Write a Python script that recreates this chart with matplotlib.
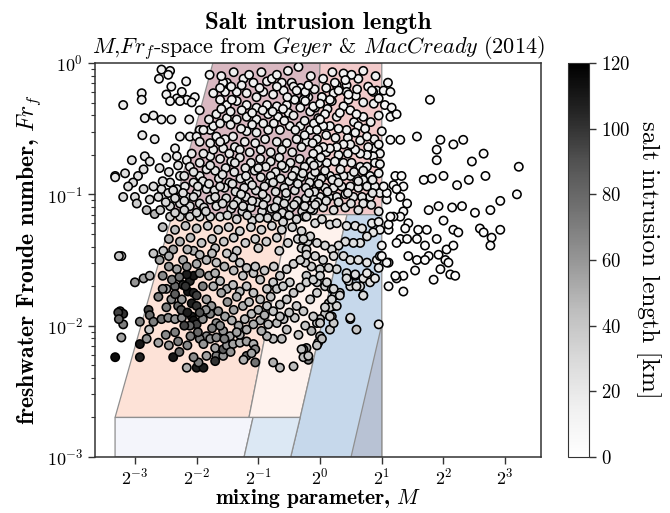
import numpy as np
import matplotlib
matplotlib.use("Agg")
import matplotlib.pyplot as plt
from matplotlib.ticker import NullLocator, FixedLocator

plt.rcParams['font.family'] = 'serif'
plt.rcParams['font.serif'] = ['cmr10', 'DejaVu Serif']
plt.rcParams['mathtext.fontset'] = 'cm'
plt.rcParams['axes.formatter.use_mathtext'] = True

# ---------------- regime polygons (M, Fr_f) ----------------
mauve_M = [0.19, 0.30, 1.0, 0.945];   mauve_Fr = [0.07, 1.0, 1.0, 0.07]
pink_M = [0.945, 1.0, 2.0, 2.0];      pink_Fr = [0.07, 1.0, 1.0, 0.07]
salmon_M = [0.10, 0.19, 0.706, 0.45]; salmon_Fr = [0.002, 0.07, 0.07, 0.002]
cream_M = [0.45, 0.706, 1.354, 0.80]; cream_Fr = [0.002, 0.07, 0.07, 0.002]
blue_M = [0.80, 1.354, 2.0, 2.0, 0.719]; blue_Fr = [0.002, 0.07, 0.07, 0.001, 0.001]
dark_M = [1.416, 2.0, 2.0];           dark_Fr = [0.001, 0.0102, 0.001]
lav_M = [0.10, 0.10, 0.471, 0.426];   lav_Fr = [0.001, 0.002, 0.002, 0.001]
lblue_M = [0.426, 0.471, 0.80, 0.719]; lblue_Fr = [0.001, 0.002, 0.002, 0.001]

# ---------------- estuary points: (log2 M, log10 Fr_f, salt intrusion length km) ----------------
pts_left_top = [
    (-2.57,-0.05,14),(-2.43,-0.06,14),(-2.61,-0.12,14),(-2.46,-0.09,14),(-2.17,-0.14,14),(-1.79,-0.09,12),
    (-3.19,-0.32,16),(-2.89,-0.23,14),(-2.89,-0.28,14),(-2.49,-0.24,14),(-2.32,-0.27,14),(-2.16,-0.28,14),
    (-2.03,-0.26,14),(-2.43,-0.29,14),(-2.27,-0.29,14),(-2.41,-0.18,14),(-2.24,-0.22,14),(-2.08,-0.30,14),
    (-2.84,-0.42,16),(-2.70,-0.40,16),(-2.57,-0.43,16),(-2.41,-0.43,16),(-2.12,-0.43,15),(-1.95,-0.36,15),
    (-2.88,-0.55,20),(-2.68,-0.58,20),(-2.35,-0.65,18),(-2.27,-0.56,18),(-2.11,-0.56,18),(-1.95,-0.51,16),
    (-1.78,-0.51,16),(-2.00,-0.56,16),(-1.68,-0.56,16),(-3.05,-0.74,24),(-2.84,-0.71,22),(-2.76,-0.75,22),
    (-2.86,-0.81,24),(-2.95,-0.86,26),(-3.03,-0.91,28),(-3.11,-0.94,26),(-3.19,-1.02,30),(-3.32,-0.86,30),
    (-3.16,-0.84,26),(-2.49,-0.72,22),(-2.32,-0.71,20),(-2.16,-0.74,20),(-2.11,-0.79,20),(-2.27,-0.86,22),
    (-2.43,-0.91,24),(-2.57,-0.96,26),(-2.70,-0.94,26),(-2.86,-0.96,28),(-3.00,-1.02,30),(-2.97,-1.07,36),
    (-2.76,-1.04,30),(-2.62,-1.02,28),(-2.46,-0.99,26),(-2.32,-0.96,24),(-2.19,-0.94,22),(-2.05,-0.91,22),
    (-1.95,-0.86,20),(-1.84,-0.81,20),(-1.95,-0.76,20),(-1.78,-0.71,20),(-2.16,-1.02,24),(-2.00,-0.99,22),
    (-1.84,-0.96,22),(-2.81,-1.12,42),(-2.68,-1.15,48),(-2.59,-1.12,36),(-2.43,-1.09,32),(-2.27,-1.07,30),
    (-2.11,-1.09,28),(-1.95,-1.07,26),(-1.78,-1.04,25),(-1.68,-1.09,25),(-1.62,-1.17,28),(-1.78,-1.17,30),
    (-1.95,-1.17,30),(-2.11,-1.17,32),(-2.27,-1.17,34),(-2.43,-1.17,36),(-3.32,-0.87,22),
]
pts_mauve = [
    (-1.24,-0.12,14),(-1.51,-0.15,14),(-1.54,-0.22,14),(-1.35,-0.22,14),(-1.19,-0.23,14),(-1.08,-0.15,14),
    (-0.86,-0.14,14),(-0.78,-0.12,14),(-0.62,-0.15,14),(-0.92,-0.22,14),(-1.03,-0.26,14),(-0.76,-0.24,14),
    (-0.59,-0.21,14),(-0.46,-0.15,14),(-0.32,-0.19,14),(-0.19,-0.26,14),(-0.41,-0.28,14),(-0.54,-0.32,15),
    (-0.70,-0.33,15),(-0.86,-0.32,15),(-1.03,-0.34,15),(-1.19,-0.32,15),(-1.35,-0.29,15),(-1.51,-0.32,15),
    (-1.68,-0.39,16),(-1.51,-0.42,16),(-1.35,-0.43,16),(-1.19,-0.41,16),(-1.03,-0.43,16),(-0.84,-0.39,16),
    (-0.68,-0.41,16),(-0.51,-0.38,16),(-0.32,-0.34,16),(-0.16,-0.37,16),(-0.03,-0.42,16),(-1.73,-0.48,17),
    (-1.89,-0.51,17),(-1.54,-0.58,18),(-1.41,-0.56,18),(-1.19,-0.52,17),(-1.03,-0.53,17),(-0.84,-0.51,17),
    (-0.65,-0.51,17),(-0.49,-0.48,17),(-0.32,-0.48,17),(-0.16,-0.51,17),(-0.05,-0.58,18),(-0.22,-0.60,18),
    (-0.38,-0.58,18),(-0.54,-0.61,18),(-0.70,-0.60,18),(-0.89,-0.58,18),(-1.05,-0.61,18),(-1.22,-0.60,18),
    (-1.38,-0.64,19),(-1.57,-0.65,19),(-1.73,-0.66,19),(-1.89,-0.69,19),(-2.08,-0.69,19),(-1.73,-0.23,14),
    (-1.57,-0.15,14),(-1.62,-0.28,14),(-1.43,-0.28,14),(-0.35,-0.03,12),(-0.43,-0.18,14),(-0.38,-0.21,14),
    (-0.24,-0.24,14),(-0.27,-0.28,14),
]
pts_upper_extra = [
    (-1.60,-0.10,15),(-1.40,-0.07,15),(-1.15,-0.09,15),(-0.95,-0.07,15),(-0.70,-0.09,15),(-0.52,-0.06,15),
    (-0.15,-0.10,15),(0.05,-0.12,14),(0.20,-0.07,14),(0.62,-0.12,14),(0.70,-0.06,14),(0.90,-0.10,14),
    (1.10,-0.15,10),(-1.62,-0.19,16),(-1.44,-0.18,16),(-1.27,-0.17,16),(-0.98,-0.19,16),(-0.70,-0.18,16),
    (-0.53,-0.26,16),(-0.09,-0.20,16),(0.10,-0.19,15),(0.58,-0.25,15),(0.70,-0.30,15),(0.87,-0.31,15),
    (0.60,-0.20,15),(-1.60,-0.35,17),(-1.45,-0.37,17),(-1.27,-0.36,17),(-1.10,-0.38,17),(-0.93,-0.36,17),
    (-0.77,-0.37,17),(-0.60,-0.35,17),(-0.43,-0.40,17),(-0.25,-0.44,17),(-0.08,-0.34,17),(0.12,-0.35,16),
    (0.27,-0.41,16),(0.55,-0.45,16),(0.82,-0.45,16),(0.95,-0.40,16),(-1.80,-0.43,18),(-1.62,-0.46,18),
    (-1.45,-0.47,18),(-1.28,-0.50,18),(-1.10,-0.47,18),(-0.92,-0.46,18),(-0.75,-0.46,18),(-0.58,-0.44,18),
    (-0.40,-0.51,18),(-0.25,-0.55,18),(-0.10,-0.46,18),(0.10,-0.55,17),(0.25,-0.57,17),(0.45,-0.57,17),
    (0.65,-0.59,17),(0.88,-0.58,17),(-1.95,-0.60,20),(-1.78,-0.61,20),(-1.62,-0.60,20),(-1.47,-0.69,20),
    (-1.30,-0.66,20),(-1.14,-0.68,20),(-0.96,-0.66,20),(-0.80,-0.68,20),(-0.62,-0.66,20),(-0.45,-0.68,20),
    (-0.30,-0.64,20),(-0.12,-0.61,20),(0.10,-0.68,19),(0.30,-0.70,19),(0.45,-0.69,19),(0.88,-0.65,19),
]
pts_band = [
    (-1.62,-0.73,21),(-1.44,-0.75,21),(-1.30,-0.72,21),(-1.12,-0.76,21),(-0.97,-0.73,21),(-0.80,-0.75,21),
    (-0.66,-0.72,21),(-0.48,-0.76,21),(-0.33,-0.73,21),(-0.15,-0.75,21),(0.01,-0.72,20),
    (-1.70,-0.82,23),(-1.53,-0.80,23),(-1.39,-0.83,23),(-1.21,-0.80,23),(-1.06,-0.82,23),(-0.88,-0.79,22),
    (-0.72,-0.83,22),(-0.57,-0.80,22),(-0.40,-0.82,22),(-0.25,-0.79,22),(-0.08,-0.83,22),
    (-1.64,-0.88,25),(-1.47,-0.91,25),(-1.29,-0.88,25),(-1.15,-0.90,24),(-0.96,-0.87,24),(-0.82,-0.91,24),
    (-0.64,-0.88,24),(-0.50,-0.90,24),(-0.31,-0.87,24),(-0.17,-0.91,24),(0.02,-0.88,24),
    (-1.71,-0.97,27),(-1.55,-0.95,27),(-1.37,-0.98,27),(-1.23,-0.95,26),(-1.04,-0.97,26),(-0.90,-0.94,26),
    (-0.72,-0.98,26),(-0.58,-0.95,26),(-0.41,-0.97,26),(-0.23,-0.95,26),(-0.09,-0.98,26),
    (-1.52,-1.03,29),(-1.34,-1.05,29),(-1.20,-1.02,28),(-1.02,-1.06,28),(-0.87,-1.03,28),(-0.69,-1.05,28),
    (-0.55,-1.02,28),(-0.37,-1.05,28),(-0.23,-1.03,28),(-0.04,-1.06,28),
    (-1.44,-1.11,31),(-1.26,-1.13,31),(-1.12,-1.10,30),(-0.94,-1.13,30),(-0.79,-1.11,30),(-0.61,-1.14,30),
    (-0.47,-1.10,30),(-0.29,-1.13,30),(-0.15,-1.11,30),
    (-1.35,-1.19,33),(-1.10,-1.20,32),(-0.85,-1.18,32),(-0.60,-1.21,32),(-0.38,-1.19,32),
    (-2.55,-1.25,45),(-2.35,-1.27,44),(-2.18,-1.24,42),(-2.00,-1.26,40),(-1.82,-1.24,38),(-1.65,-1.27,36),
    (-1.48,-1.25,35),(-1.30,-1.28,35),(-1.12,-1.25,34),(-0.95,-1.27,34),(-0.78,-1.24,33),(-0.62,-1.27,33),
    (-0.45,-1.25,32),(-0.30,-1.28,32),
    (-2.45,-1.34,50),(-2.27,-1.36,48),(-2.10,-1.33,45),(-1.92,-1.37,42),(-1.75,-1.34,40),(-1.56,-1.36,38),
    (-1.40,-1.33,36),(-1.21,-1.37,36),(-1.05,-1.34,35),(-0.87,-1.36,35),(-0.70,-1.33,34),(-0.52,-1.37,34),
    (-0.36,-1.34,33),(-0.20,-1.36,33),
    (-2.38,-1.42,55),(-2.05,-1.43,50),(-1.70,-1.41,42),(-1.35,-1.43,38),(-1.00,-1.41,36),(-0.66,-1.43,34),
    (-0.30,-1.41,33),
]
pts_band_extra = [
    (-2.60,-0.80,24),(-2.45,-0.83,24),(-2.30,-0.78,24),(-2.20,-0.86,24),(-2.05,-0.83,24),(-1.90,-0.90,24),
    (-1.78,-0.78,24),(-1.58,-0.85,24),(-1.38,-0.76,23),(-1.20,-0.86,24),(-1.00,-0.80,23),(-0.80,-0.86,24),
    (-0.62,-0.78,23),(-0.45,-0.86,24),(-0.28,-0.84,24),(-0.10,-0.78,23),(0.08,-0.82,22),(0.20,-0.89,22),
    (0.33,-0.81,22),(0.55,-0.83,22),(0.70,-0.82,22),(0.85,-0.89,22),
    (-2.55,-0.90,27),(-2.38,-0.97,27),(-2.22,-0.99,27),(-1.98,-0.94,26),(-1.80,-0.92,26),(-1.62,-0.94,26),
    (-1.42,-0.92,26),(-1.28,-1.00,26),(-1.10,-0.93,26),(-0.93,-1.00,26),(-0.76,-0.91,26),(-0.55,-0.99,26),
    (-0.36,-0.92,26),(-0.18,-0.99,26),(-0.02,-0.92,25),(0.12,-0.98,25),(0.30,-0.91,25),(0.45,-0.99,25),
    (0.62,-0.90,25),(0.85,-0.99,25),
    (-2.50,-1.06,30),(-2.35,-1.03,30),(-2.20,-1.05,30),(-2.05,-1.02,29),(-1.88,-1.10,29),(-1.70,-1.02,29),
    (-1.58,-1.07,29),(-1.40,-1.08,29),(-1.25,-1.09,29),(-1.10,-1.05,28),(-0.92,-1.08,28),(-0.73,-1.10,28),
    (-0.58,-1.07,28),(-0.42,-1.08,28),(-0.25,-1.09,28),(-0.08,-1.08,28),(0.10,-1.05,27),(0.30,-1.06,27),
    (0.50,-1.07,27),(0.62,-1.12,27),(0.83,-1.08,27),
    (-2.35,-1.14,34),(-2.20,-1.12,34),(-2.00,-1.14,33),(-1.85,-1.13,33),(-1.50,-1.16,32),(-1.18,-1.16,32),
    (-0.98,-1.18,32),(-0.70,-1.17,32),(-0.50,-1.16,31),(-0.25,-1.17,31),
]
pts_pink = [
    (0.38,-0.08,12),(0.51,-0.09,12),(0.27,-0.17,12),(0.43,-0.17,12),(0.22,-0.23,12),(0.43,-0.22,12),
    (0.19,-0.29,12),(0.46,-0.28,12),(0.38,-0.33,12),(0.32,-0.38,12),(0.49,-0.36,12),(0.78,-0.18,12),
    (0.92,-0.21,12),(0.86,-0.22,12),(1.03,-0.21,10),(1.14,-0.22,8),(1.05,-0.32,8),(1.16,-0.34,8),
    (1.14,-0.41,8),(1.24,-0.39,8),(0.70,-0.41,12),(0.59,-0.39,12),(0.62,-0.48,15),(0.73,-0.50,15),
    (0.76,-0.56,15),(0.57,-0.53,15),(0.43,-0.51,15),(0.30,-0.50,15),(0.16,-0.48,15),(0.05,-0.48,15),
    (-0.05,-0.51,15),(0.08,-0.39,14),(0.00,-0.43,14),(-0.11,-0.33,14),(-0.24,-0.29,14),(-0.24,-0.22,14),
    (-0.19,-0.17,14),(0.03,-0.26,14),(1.00,-0.52,12),(0.78,-0.64,16),(0.95,-0.62,15),(0.97,-0.69,15),
    (0.86,-0.71,16),(0.76,-0.70,16),(0.65,-0.69,16),(0.57,-0.66,16),(0.49,-0.62,16),(0.38,-0.62,16),
    (0.27,-0.64,16),(0.16,-0.65,16),(0.05,-0.64,17),(-0.03,-0.66,17),(-0.11,-0.69,18),(-0.16,-0.75,19),
    (-0.03,-0.76,19),(0.11,-0.76,18),(0.24,-0.75,18),(0.38,-0.76,18),(0.51,-0.76,18),(0.65,-0.79,18),
    (0.76,-0.79,18),(0.89,-0.76,17),(0.97,-0.77,16),(0.95,-0.84,17),(0.81,-0.86,19),(0.70,-0.89,20),
    (0.59,-0.88,20),(0.49,-0.86,20),(0.38,-0.86,20),(0.27,-0.88,20),(0.16,-0.86,20),(0.05,-0.86,21),
    (-0.05,-0.88,21),(-0.14,-0.86,21),(-0.05,-0.94,22),(0.08,-0.95,22),(0.22,-0.95,22),(0.35,-0.94,22),
    (0.49,-0.94,22),(0.62,-0.95,22),(0.76,-0.94,21),(0.89,-0.94,20),(0.97,-0.99,20),(0.81,-1.02,22),
    (0.68,-1.02,23),(0.54,-1.02,23),(0.41,-1.00,23),(0.27,-1.02,24),(0.14,-1.02,24),(0.00,-1.02,24),
    (-0.11,-1.03,25),(-0.22,-1.03,25),(-0.27,-1.09,27),(-0.11,-1.12,27),(0.05,-1.10,26),(0.22,-1.12,26),
    (0.41,-1.10,26),(0.70,-1.07,24),(0.95,-1.13,22),(0.41,-0.13,12),(0.46,-0.24,12),(0.24,-0.15,12),
    (0.30,-0.21,12),(0.16,-0.28,12),(0.84,-0.21,12),(0.95,-0.27,12),(0.03,-0.26,13),(0.00,-0.31,13),
]
pts_right = [
    (1.08,-1.04,8),(1.08,-0.99,8),(1.03,-0.94,10),(1.19,-0.93,6),(1.30,-1.02,6),(1.41,-1.07,6),(1.35,-1.13,6),
    (1.30,-1.17,6),(1.19,-1.17,6),(1.78,-0.28,4),(1.14,-0.585,5),(1.30,-0.585,5),(1.57,-0.56,4),(1.95,-0.585,4),
    (2.16,-0.62,4),(2.32,-0.585,4),(1.89,-0.66,4),(1.89,-0.74,4),(2.65,-0.69,4),(2.46,-0.75,4),(2.00,-0.86,4),
    (2.22,-0.93,4),(2.41,-0.89,4),(2.68,-0.86,4),(1.81,-0.88,4),(1.68,-0.89,4),(1.22,-0.86,5),(1.32,-0.86,5),
    (1.35,-0.94,5),(1.24,-0.96,5),(3.22,-0.79,3),(3.19,-1.00,3),(2.92,-1.05,3),(2.76,-1.12,3),(2.51,-1.14,3),
    (2.30,-1.09,4),(2.14,-1.10,4),(2.00,-1.20,4),(2.16,-1.27,4),(2.24,-1.29,4),(1.76,-1.12,4),(1.92,-1.09,4),
    (2.59,-1.26,3),(2.65,-1.29,3),(2.78,-1.33,3),(2.92,-1.27,3),(2.76,-1.39,3),(1.73,-1.27,4),(1.59,-1.27,4),
    (1.43,-1.22,5),(1.38,-1.26,5),(1.30,-1.34,5),(1.41,-1.34,5),(1.57,-1.34,4),(1.24,-1.37,5),(1.11,-1.27,6),
    (1.11,-1.23,6),(1.14,-1.17,6),(1.89,-1.34,4),(1.70,-1.39,4),(1.76,-1.47,4),(1.92,-1.46,4),(2.05,-1.42,4),
    (2.16,-1.39,4),(2.03,-1.50,4),(2.08,-1.52,4),(1.95,-1.57,4),(2.11,-1.61,4),(2.19,-1.62,4),(1.84,-1.65,4),
    (1.43,-1.47,5),(1.57,-1.50,4),(1.70,-1.50,4),(1.54,-1.58,4),(1.35,-1.62,5),(1.24,-1.64,5),(1.11,-1.70,6),
    (1.35,-1.74,5),(1.11,-1.52,6),(0.95,-1.99,20),
]
pts_blue = [
    (-0.22,-1.17,30),(-0.08,-1.22,30),(0.03,-1.19,28),(0.16,-1.23,28),(0.27,-1.22,26),(0.43,-1.24,26),
    (0.57,-1.24,25),(0.68,-1.26,24),(0.84,-1.22,20),(0.95,-1.21,18),(0.97,-1.27,18),(0.86,-1.29,22),
    (0.76,-1.32,24),(0.65,-1.37,25),(0.54,-1.37,26),(0.41,-1.36,28),(0.30,-1.39,30),(0.19,-1.42,30),
    (0.08,-1.39,32),(-0.05,-1.37,32),(-0.16,-1.32,32),(-0.27,-1.34,33),(-0.22,-1.42,34),(-0.08,-1.47,34),
    (0.05,-1.50,33),(0.22,-1.47,30),(0.38,-1.47,28),(0.49,-1.50,27),(0.62,-1.50,26),(0.76,-1.52,22),
    (0.92,-1.50,16),(1.00,-1.39,12),(0.97,-1.47,16),(0.95,-1.56,20),(0.81,-1.62,24),(0.70,-1.64,26),
    (0.57,-1.62,28),(0.43,-1.60,30),(0.27,-1.57,32),(0.14,-1.56,34),(0.00,-1.57,35),(-0.14,-1.55,36),
    (-0.24,-1.52,36),(-0.22,-1.62,38),(-0.05,-1.67,36),(0.08,-1.70,36),(0.19,-1.72,35),(0.32,-1.75,34),
    (0.49,-1.70,30),(0.65,-1.70,28),(0.81,-1.67,25),(0.70,-1.77,30),(0.24,-1.77,38),(0.14,-1.83,40),
    (0.22,-1.85,40),(0.19,-1.93,42),(0.08,-1.91,42),(0.00,-1.95,45),(-0.05,-1.98,45),(-0.14,-2.04,48),
    (0.49,-1.95,36),(0.59,-2.03,40),(0.00,-2.08,50),(-0.22,-2.17,55),(-0.19,-2.26,70),(-0.27,-2.18,55),
]
pts_low = [
    (-3.22,-1.47,35),(-2.70,-1.45,40),(-2.54,-1.43,40),(-2.86,-1.64,55),(-2.76,-1.62,50),(-3.00,-1.67,60),
    (-3.24,-1.89,90),(-3.19,-1.91,100),(-3.19,-1.99,70),(-3.22,-2.09,55),(-3.32,-2.24,115),(-2.92,-2.14,110),
    (-2.92,-2.24,105),(-2.81,-2.10,60),(-2.78,-1.88,95),(-2.76,-1.92,80),(-2.92,-1.97,70),(-2.77,-2.03,40),
    (-2.70,-1.97,70),(-2.57,-1.95,75),(-2.46,-1.94,65),(-2.35,-1.95,60),(-2.24,-1.94,65),(-2.38,-2.24,110),
    (-2.16,-2.32,50),(-2.00,-2.32,108),(-1.89,-2.32,108),(-1.97,-2.28,70),(-2.05,-2.24,65),(-1.84,-2.23,55),
    (-1.68,-2.23,70),(-1.57,-2.23,60),(-1.70,-2.27,100),(-3.26,-1.47,40),(-3.27,-1.90,95),(-3.26,-1.95,80),
    (-2.35,-1.70,80),(-2.22,-1.69,100),(-2.11,-1.66,105),(-2.05,-1.62,110),(-1.95,-1.60,70),(-2.16,-1.61,108),
    (-2.14,-1.74,112),(-2.05,-1.75,105),(-2.00,-1.77,95),(-2.08,-1.83,108),(-2.00,-1.85,100),(-2.08,-1.93,108),
    (-2.05,-1.96,112),(-2.00,-1.99,95),(-2.11,-2.00,80),
    (-1.84,-2.08,65),(-1.78,-2.10,60),(-1.68,-2.09,65),(-1.95,-2.10,70),(-1.89,-2.14,60),(-1.70,-2.17,55),
    (-1.57,-2.18,85),(-1.51,-2.15,60),(-1.41,-2.14,55),(-1.30,-2.13,50),(-1.19,-2.12,55),(-1.08,-2.14,50),
    (-1.05,-2.18,65),(-1.19,-2.23,80),(-1.24,-2.26,50),(-1.05,-2.28,75),(-1.11,-2.21,55),
    (-0.76,-2.28,50),(-0.65,-2.32,45),(-0.43,-2.31,45),(-0.30,-2.18,42),(-0.27,-2.24,45),(-0.19,-2.23,42),
    (-0.03,-2.13,42),(0.03,-2.10,45),(-0.05,-2.15,42),(0.16,-2.03,38),(0.22,-1.98,38),(0.16,-1.93,35),
    (0.16,-1.86,34),(0.27,-1.85,34),(0.49,-1.94,28),(0.70,-1.77,28),(0.59,-1.70,28),(0.46,-1.66,28),
    (0.43,-1.64,28),(0.57,-1.61,28),(0.76,-1.60,22),(0.89,-1.64,20),(1.08,-1.52,10),(1.00,-1.47,14),(1.22,-1.62,6),
    (-0.35,-2.07,42),(-0.54,-2.03,42),(-0.41,-1.94,40),(-0.59,-1.95,42),(-0.70,-1.98,45),(-0.84,-1.99,45),
    (-0.97,-1.96,50),(-0.76,-2.10,45),(-0.62,-2.10,45),(-0.86,-2.08,50),(-0.95,-2.04,50),
    (-2.49,-1.72,55),(-2.41,-1.80,65),(-2.49,-1.86,70),(-2.30,-1.85,80),(-2.24,-1.80,60),(-1.84,-1.80,55),
    (-1.76,-1.85,60),(-1.65,-1.89,65),(-1.54,-1.93,55),(-1.43,-1.96,50),(-1.32,-2.00,55),(-1.78,-1.91,70),
    (-1.68,-1.98,65),(-1.57,-2.04,60),(-1.46,-2.08,55),(-1.30,-2.07,50),(-1.19,-2.03,50),(-1.22,-1.95,45),
    (-1.11,-1.91,45),(-1.08,-1.99,50),(-1.73,-1.70,50),(-1.62,-1.66,45),(-1.51,-1.72,50),(-1.41,-1.69,45),
    (-1.30,-1.74,45),(-1.19,-1.70,42),(-1.08,-1.75,42),(-0.97,-1.80,42),(-0.86,-1.85,42),(-0.76,-1.89,42),
    (-0.65,-1.84,40),(-0.54,-1.80,38),(-0.43,-1.75,38),(-0.32,-1.71,35),(-0.22,-1.67,35),(-0.11,-1.65,34),
    (0.00,-1.62,34),(0.11,-1.67,32),(0.22,-1.72,32),(0.32,-1.77,32),(-0.86,-1.72,40),(-0.76,-1.67,38),
    (-0.65,-1.62,38),(-0.54,-1.57,35),(-0.43,-1.53,34),(-0.32,-1.50,34),(-0.22,-1.46,32),(-0.97,-1.65,40),
    (-1.08,-1.60,40),(-1.19,-1.56,40),(-1.30,-1.52,38),(-1.41,-1.48,38),(-1.51,-1.45,38),(-1.68,-1.52,42),
    (-1.84,-1.50,46),(-1.95,-1.46,46),(-2.22,-1.50,52),(-2.32,-1.57,56),(-2.16,-1.55,65),(-2.00,-1.53,52),
    (-0.49,-1.67,35),(-0.38,-1.85,38),(-0.27,-1.89,38),(-0.16,-1.80,35),(-0.05,-1.75,34),(-0.11,-1.93,38),
    (-0.24,-2.00,40),(0.00,-1.98,38),(0.08,-1.86,35),(0.19,-1.80,33),
]
pts_low_extra = [
    (-2.60,-1.50,55),(-2.45,-1.55,60),(-2.55,-1.62,65),(-2.40,-1.65,70),(-2.28,-1.63,75),(-2.62,-1.78,70),
    (-2.55,-1.72,65),(-2.35,-1.76,85),(-2.18,-1.70,100),(-2.25,-1.88,90),(-2.15,-1.90,108),(-2.20,-2.00,95),
    (-2.35,-2.05,70),(-2.50,-2.07,65),(-2.62,-2.13,55),(-2.45,-2.15,60),(-2.30,-2.12,70),(-2.15,-2.15,65),
    (-1.98,-2.05,80),(-1.90,-1.95,65),(-1.85,-1.88,60),(-1.95,-1.90,90),(-1.90,-1.70,70),(-1.80,-1.62,55),
    (-1.70,-1.60,50),(-1.60,-1.75,55),(-1.50,-1.82,60),(-1.40,-1.88,55),(-1.35,-1.78,50),(-1.25,-1.85,50),
    (-1.15,-1.82,45),(-1.00,-1.88,48),(-0.90,-1.92,50),(-0.80,-1.78,42),(-0.70,-1.72,40),(-0.60,-1.70,38),
    (-0.50,-1.90,40),(-0.65,-1.93,42),(-1.55,-2.10,70),(-1.45,-2.20,60),(-1.35,-2.05,55),(-1.62,-2.00,65),
    (-1.75,-2.02,70),(-2.10,-2.08,70),(-2.28,-2.20,80),(-1.40,-1.58,45),(-1.55,-1.55,48),(-1.25,-1.62,42),
    (-1.05,-1.55,40),(-0.90,-1.58,38),(-0.75,-1.55,36),(-1.75,-1.45,45),(-2.15,-1.42,48),(-2.45,-1.47,50),
]

groups = [pts_left_top, pts_mauve, pts_upper_extra, pts_pink, pts_right,
          pts_band, pts_band_extra, pts_blue, pts_low, pts_low_extra]
allpts = np.array([p for g in groups for p in g], dtype=float)
M = 2.0 ** allpts[:, 0]
Fr = 10.0 ** allpts[:, 1]
L = allpts[:, 2]

# ---------------- figure ----------------
fig = plt.figure(figsize=(6.7, 5.13), dpi=100)
ax = fig.add_axes([95/670, 1-457/513, (541-95)/670, (457-63)/513])

polys = [
    (mauve_M, mauve_Fr, '#d9b8c1'),
    (pink_M, pink_Fr, '#f2caca'),
    (salmon_M, salmon_Fr, '#fde2d7'),
    (cream_M, cream_Fr, '#fef2ed'),
    (blue_M, blue_Fr, '#c6d8eb'),
    (dark_M, dark_Fr, '#b8c2d4'),
    (lav_M, lav_Fr, '#f4f5fb'),
    (lblue_M, lblue_Fr, '#dce8f4'),
]
for pm, pf, c in polys:
    ax.fill(pm, pf, facecolor=c, edgecolor='#8f8f8f', linewidth=0.9, zorder=1)

sc = ax.scatter(M, Fr, c=L, cmap='Greys', vmin=0, vmax=120, s=36,
                edgecolors='black', linewidths=1.15, zorder=3)

ax.set_xscale('log', base=2)
ax.set_yscale('log')
ax.set_xlim(2**-3.647, 2**3.58)
ax.set_ylim(1e-3, 1.0)
ax.xaxis.set_major_locator(FixedLocator([2.0**k for k in range(-3, 4)]))
ax.xaxis.set_minor_locator(NullLocator())
ax.tick_params(axis='both', which='major', labelsize=13, length=5, width=1.0, color='#333333')
ax.tick_params(axis='x', which='major', pad=2)
ax.tick_params(axis='y', which='minor', length=3, width=0.8, color='#333333')
for s in ax.spines.values():
    s.set_color('#333333')
    s.set_linewidth(1.1)

ax.set_xlabel(r'mixing parameter, $M$', fontfamily='cmb10', fontsize=15.5)
ax.xaxis.set_label_coords(0.5, -0.077)
ax.set_ylabel(r'freshwater Froude number, $Fr_f$', fontfamily='cmb10', fontsize=17, labelpad=3)

xc = (95 + 541) / 2 / 670
fig.text(xc, 1 - 29/513, 'Salt intrusion length', fontfamily='cmb10', fontsize=18,
         ha='center', va='baseline')
fig.text(xc, 1 - 53/513, r'$M$,$Fr_f$-space from $\mathit{Geyer}$ & $\mathit{MacCready\ (2014)}$',
         fontsize=16, ha='center', va='baseline')

cax = fig.add_axes([568/670, 1-457/513, 21/670, (457-63)/513])
cb = fig.colorbar(sc, cax=cax)
cb.set_ticks([0, 20, 40, 60, 80, 100, 120])
cb.ax.tick_params(labelsize=13.5, length=5, width=1.0, color='#333333')
cb.outline.set_edgecolor('#333333')
cb.set_label('salt intrusion length [km]', rotation=270, fontsize=18, labelpad=22)

fig.savefig('out.png', dpi=100)
